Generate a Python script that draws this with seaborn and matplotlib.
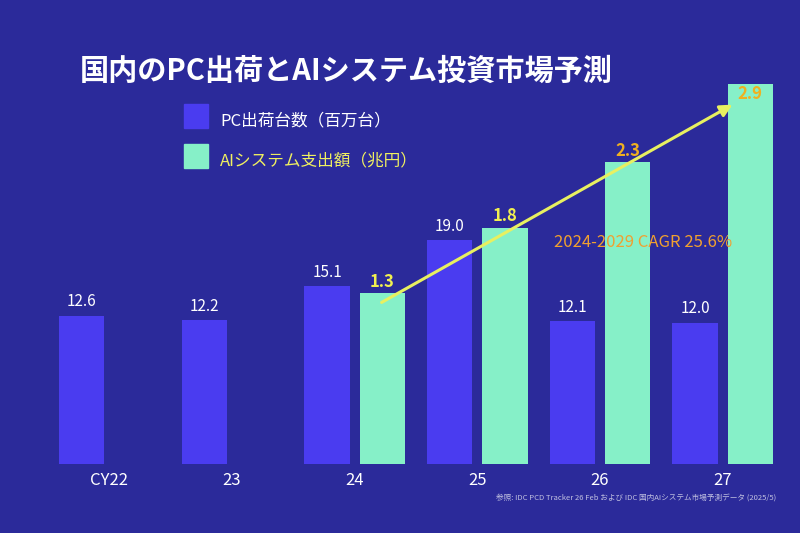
import matplotlib
matplotlib.use("Agg")
import matplotlib.pyplot as plt
import seaborn as sns
import numpy as np
import pandas as pd

years = ["CY22", "23", "24", "25", "26", "27"]
pc_units = [12.6, 12.2, 15.1, 19.0, 12.1, 12.0]
ai_spend = [np.nan, np.nan, 1.3, 1.8, 2.3, 2.9]
pc_label = "PC出荷台数（百万台）"
ai_label = "AIシステム支出額（兆円）"

PC_COLOR = "#4a3cf0"
AI_COLOR = "#86f0c8"
BG = "#2b2a9a"

sns.set_theme(style="white")
plt.rcParams["font.family"] = ["Noto Sans CJK JP", "DejaVu Sans"]

order = [pc_label, ai_label]
df = pd.DataFrame({
    "year": years * 2,
    "series": [pc_label] * 6 + [ai_label] * 6,
    "pc": pc_units + [0] * 6,
    "ai": [0] * 6 + [0 if np.isnan(v) else v for v in ai_spend],
})

fig = plt.figure(figsize=(8, 5.33), dpi=100)
fig.patch.set_facecolor(BG)
ax = fig.add_axes([0.06, 0.13, 0.92, 0.75])
ax.set_facecolor(BG)
ax2 = ax.twinx()

kw = dict(x="year", hue="series", hue_order=order, palette=[PC_COLOR, AI_COLOR],
          width=0.9, gap=0.18, legend=False, saturation=1, linewidth=0)
sns.barplot(data=df, y="pc", ax=ax, **kw)
sns.barplot(data=df, y="ai", ax=ax2, **kw)
ax.set_ylim(0, 34)
ax2.set_ylim(0, 3.05)

for a in (ax, ax2):
    for s in a.spines.values():
        s.set_visible(False)
    a.set_ylabel("")
    a.set_xlabel("")
    a.set_yticks([])
ax.tick_params(axis="x", colors="white", labelsize=12, length=0, pad=6)

xs = np.arange(len(years))
off = 0.9 / 4
for x, v in zip(xs, pc_units):
    ax.text(x - off, v + 0.8, f"{v:.1f}", color="white", ha="center", fontsize=11)
for x, v in zip(xs, ai_spend):
    if np.isnan(v):
        continue
    col = "#f0f050" if v < 2 else "#f0b020"
    ax2.text(x + off, v + 0.05 if v < 2.5 else v - 0.12, f"{v:.1f}", color=col,
             ha="center", fontsize=12, fontweight="bold")

ax2.annotate("", xy=(5.1, 2.75), xytext=(2.2, 1.22),
             arrowprops=dict(arrowstyle="-|>", color="#e8f060", lw=2.2, mutation_scale=18))
ax2.text(4.35, 1.65, "2024-2029 CAGR 25.6%", color="#f0a030", ha="center", fontsize=12)

fig.text(0.10, 0.85, "国内のPC出荷とAIシステム投資市場予測", color="white",
         fontsize=21, fontweight="bold")
for i, (lab, c) in enumerate(zip(order, [PC_COLOR, AI_COLOR])):
    y = 0.76 - i * 0.075
    fig.patches.append(plt.Rectangle((0.23, y), 0.03, 0.045, color=c,
                                     transform=fig.transFigure, figure=fig))
    fig.text(0.275, y + 0.005, lab, color="white" if i == 0 else "#f0f060", fontsize=12)

fig.text(0.97, 0.06, "参照: IDC PCD Tracker 26 Feb および IDC 国内AIシステム市場予測データ (2025/5)",
         color="#c0c0e0", fontsize=5.5, ha="right")

fig.savefig("out.png", dpi=100, facecolor=BG)
